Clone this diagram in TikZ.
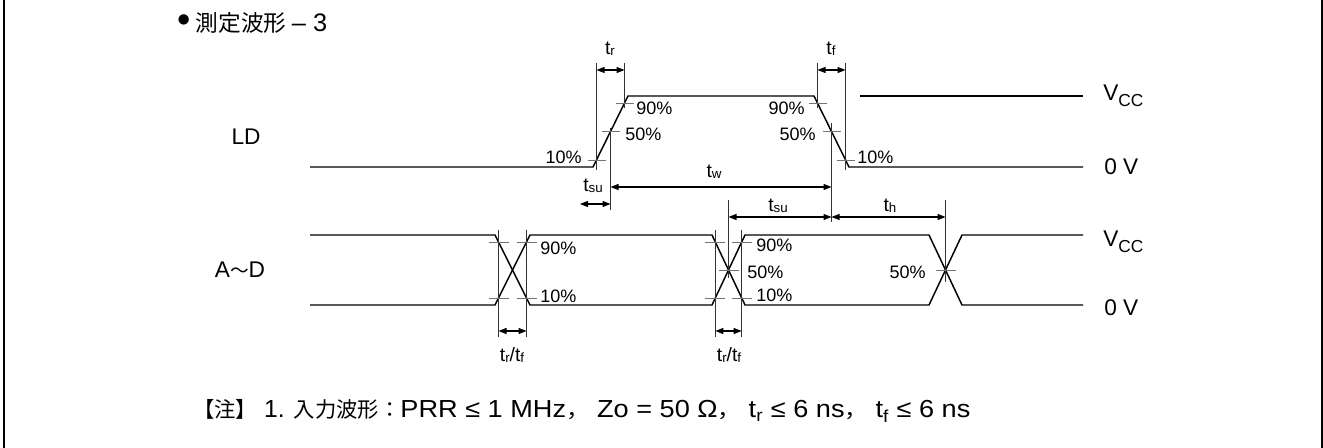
\documentclass[tikz,border=0pt]{standalone}
\usepackage{fontspec}
\usepackage{graphicx}
\setmainfont{Liberation Sans}
\newfontfamily\cjk{Noto Sans CJK JP}
\usetikzlibrary{arrows.meta}
\newcommand\fBig{\fontsize{17}{17}\selectfont}
\newcommand\fPct{\fontsize{13.5}{13.5}\selectfont}
\newcommand\fT{\fontsize{14.5}{14.5}\selectfont}
\newcommand\sbs[1]{\raisebox{-0.6pt}{\fontsize{10}{10}\selectfont #1}}
\newcommand\cj[1]{{\cjk\fontsize{16}{16}\selectfont #1}}
\begin{document}
\begin{tikzpicture}[x=0.75pt,y=-0.75pt,
  wave/.style={line width=1.1pt,line join=miter},
  meas/.style={line width=0.6pt,black!80},
  tickm/.style={line width=0.6pt,black!55},
  dimarr/.style={line width=0.8pt,{Triangle[length=6pt,width=4.5pt]}-{Triangle[length=6pt,width=4.5pt]}},
  pct/.style={font=\fPct,inner sep=0pt},
  big/.style={font=\fBig,inner sep=0pt},
  tl/.style={font=\fT,inner sep=0pt}]
\useasboundingbox (0,0) rectangle (1323,448);
% frame sides
\draw[line width=1.5pt] (4,0) -- (4,448);
\draw[line width=1.5pt] (1322,0) -- (1322,448);
% title
\node[inner sep=0pt,anchor=west,font=\fontsize{19}{19}\selectfont] (title) at (177,23) {\raisebox{-1pt}{\scalebox{1.5}{•}}\hspace{4pt}{\cjk\fontsize{17}{17}\selectfont 測定波形}\hspace{4pt}– 3};
% ---------- LD ----------
\node[big] (ldlbl) at (246,137) {LD};
\draw[wave] (310,167) -- (593,167) -- (628,96) -- (814,96) -- (849,167) -- (1083,167);
\draw[wave] (860,96) -- (1083,96);
% measurement verticals
\draw[meas] (596.5,63) -- (596.5,170);
\draw[meas] (624.5,63) -- (624.5,108);
\draw[meas] (610.5,128) -- (610.5,210);
\draw[meas] (817.5,63) -- (817.5,108);
\draw[meas] (845.5,63) -- (845.5,170);
\draw[meas] (831.5,123) -- (831.5,222);
% ticks
\foreach \x/\y in {596.5/160,610.5/131.5,624.5/103,817.5/103,831.5/131.5,845.5/160}
  \draw[tickm] (\x-9,\y) -- (\x+9,\y);
% dimension arrows
\draw[dimarr] (596.5,70) -- (624.5,70);
\draw[dimarr] (817.5,70) -- (845.5,70);
\draw[dimarr] (610.5,187) -- (831.5,187);
\draw[dimarr] (580,204) -- (610.5,204);
\draw[dimarr] (728.5,217) -- (831.5,217);
\draw[dimarr] (831.5,217) -- (945.5,217);
% labels
\node[tl] (tr1) at (610,49) {t\sbs{r}};
\node[tl] (tf1) at (831,49) {t\sbs{f}};
\node[pct,anchor=west] (p1) at (636,108) {90\%};
\node[pct,anchor=west] (p2) at (625,134) {50\%};
\node[pct,anchor=east] (p3) at (582,157) {10\%};
\node[pct,anchor=east] (p4) at (805,108) {90\%};
\node[pct,anchor=east] (p5) at (816,134) {50\%};
\node[pct,anchor=west] (p6) at (857,157) {10\%};
\node[tl] (tw) at (714,172) {t\sbs{w}};
\node[tl] (tsu1) at (593,186) {t\sbs{su}};
\node[tl] (tsu2) at (778,206) {t\sbs{su}};
\node[tl] (th) at (890,206) {t\sbs{h}};
\node[big,anchor=base west] (vcc1) at (1103,101) {V\raisebox{-4pt}{\fontsize{13}{13}\selectfont CC}};
\node[big,anchor=west] (zv1) at (1104,167) {0 V};
% ---------- A~D ----------
\node[big] (adlbl) at (240,270) {A{\cjk\fontsize{14}{14}\selectfont ～}D};
\draw[wave] (310,235) -- (495,235) -- (530,305) -- (712,305) -- (745,235) -- (929,235) -- (962,305) -- (1083,305);
\draw[wave] (310,305) -- (495,305) -- (530,235) -- (712,235) -- (745,305) -- (929,305) -- (962,235) -- (1083,235);
\foreach \x in {498.5,526.5,715.3,741.7}
  \draw[meas] (\x,230) -- (\x,337);
\draw[meas] (728.5,200) -- (728.5,278);
\draw[meas] (945.5,200) -- (945.5,282);
\foreach \x/\y in {498.5/242,526.5/242,498.5/298,526.5/298,715.3/242,741.7/242,715.3/298,741.7/298,728.5/270,945.5/270}
  \draw[tickm] (\x-10,\y) -- (\x+10,\y);
\draw[dimarr] (498.5,331) -- (526.5,331);
\draw[dimarr] (715.3,331) -- (741.7,331);
\node[pct,anchor=west] (q1) at (540,248) {90\%};
\node[pct,anchor=west] (q2) at (540,296) {10\%};
\node[pct,anchor=west] (q3) at (756,245) {90\%};
\node[pct,anchor=west] (q4) at (747,272) {50\%};
\node[pct,anchor=west] (q5) at (756,295) {10\%};
\node[pct,anchor=east] (q6) at (926,272) {50\%};
\node[tl] (trf1) at (512,355) {t\sbs{r}/t\sbs{f}};
\node[tl] (trf2) at (729,355) {t\sbs{r}/t\sbs{f}};
\node[big,anchor=base west] (vcc2) at (1103,247) {V\raisebox{-4pt}{\fontsize{13}{13}\selectfont CC}};
\node[big,anchor=west] (zv2) at (1104,308) {0 V};
% ---------- note ----------
\node[inner sep=0pt,anchor=west,font=\fontsize{18.5}{18.5}\selectfont] (note) at (193,411) {\cj{【注】}\ 1. \cj{入力波形：}\scalebox{1.1}[1]{PRR ≤ 1 MHz\cj{，}\ Zo = 50 Ω\cj{，}\ t$_{\mathrm{r}}$ ≤ 6 ns\cj{，}\ t$_{\mathrm{f}}$ ≤ 6 ns}};
\end{tikzpicture}
\end{document}
